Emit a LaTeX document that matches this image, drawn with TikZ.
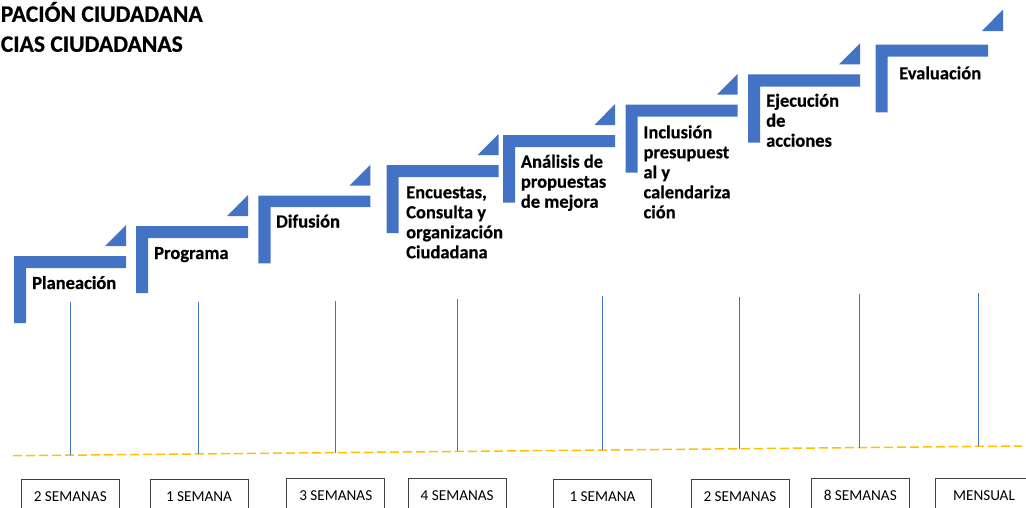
\documentclass[tikz,border=0pt]{standalone}
\usepackage{fontspec}
\setmainfont{Carlito}[BoldFeatures={FakeBold=0.5}]
\definecolor{stepblue}{HTML}{4472C4}
\definecolor{gold}{HTML}{FFC000}
\tikzset{
  stepshape/.style={fill=stepblue, draw=none},
  steplabel/.style={anchor=base west, inner sep=0pt, font=\bfseries\fontsize{18.5}{20}\selectfont},
  titletext/.style={anchor=base west, inner sep=0pt, font=\bfseries\fontsize{23.6}{30}\selectfont},
  timebox/.style={draw=black!75, line width=1pt, anchor=north, inner sep=0pt,
     minimum width=98pt, text height=22pt, text depth=12pt, font=\fontsize{15.2}{18}\selectfont},
  tick/.style={draw=stepblue, line width=1pt},
  timeline/.style={draw=gold, line width=1.5pt, dash pattern=on 9pt off 4pt}
}
\newcommand{\ml}[1]{\begin{tabular}[t]{@{}l@{}}#1\end{tabular}}
\begin{document}
\begin{tikzpicture}[x=1pt,y=-1pt]
\useasboundingbox (0,0) rectangle (1026,507);

% title (its start lies beyond the left edge in the reference)
\node[titletext] (t1) at (0.6,21.8) {PACIÓN CIUDADANA};
\node[titletext] (t2) at (0.6,51.8) {CIAS CIUDADANAS};

% step 1
\fill[stepshape] (14,256) -- (126,256) -- (126,268) -- (26,268) -- (26,323) -- (14,323) -- cycle;
\fill[stepshape] (105,246) -- (126,246) -- (126,225) -- cycle;
\node[steplabel] (s1) at (32,289) {Planeación};
% step 2
\fill[stepshape] (136,226) -- (248,226) -- (248,238) -- (148,238) -- (148,293) -- (136,293) -- cycle;
\fill[stepshape] (227,216) -- (248,216) -- (248,195) -- cycle;
\node[steplabel] (s2) at (154,259) {Programa};
% step 3
\fill[stepshape] (258.3,195.7) -- (370.3,195.7) -- (370.3,207.2) -- (270.5,207.2) -- (270.5,263.3) -- (258.3,263.3) -- cycle;
\fill[stepshape] (349.5,185.5) -- (370.3,185.5) -- (370.3,164.7) -- cycle;
\node[steplabel] (s3) at (276,227.5) {Difusión};
% step 4
\fill[stepshape] (386.5,165) -- (498.5,165) -- (498.5,177) -- (398.7,177) -- (398.7,233) -- (386.5,233) -- cycle;
\fill[stepshape] (477.5,155) -- (498.5,155) -- (498.5,134) -- cycle;
\node[steplabel] (s4) at (406,198.3) {\ml{Encuestas,\\Consulta y\\organización\\Ciudadana}};
% step 5
\fill[stepshape] (503,135) -- (615,135) -- (615,147) -- (515,147) -- (515,202.7) -- (503,202.7) -- cycle;
\fill[stepshape] (594.5,125) -- (615,125) -- (615,104) -- cycle;
\node[steplabel] (s5) at (520.7,167.7) {\ml{Análisis de\\propuestas\\de mejora}};
% step 6
\fill[stepshape] (625.5,104.5) -- (737.5,104.5) -- (737.5,116.7) -- (637.7,116.7) -- (637.7,172.7) -- (625.5,172.7) -- cycle;
\fill[stepshape] (717,94.5) -- (737.5,94.5) -- (737.5,74) -- cycle;
\node[steplabel] (s6) at (643.3,138.3) {\ml{Inclusión\\presupuest\\al y\\calendariza\\ción}};
% step 7
\fill[stepshape] (748,74.3) -- (860,74.3) -- (860,86.7) -- (760,86.7) -- (760,142.7) -- (748,142.7) -- cycle;
\fill[stepshape] (839,64.3) -- (860,64.3) -- (860,43.3) -- cycle;
\node[steplabel] (s7) at (766,106.7) {\ml{Ejecución\\de\\acciones}};
% step 8
\fill[stepshape] (875.5,44.7) -- (988,44.7) -- (988,56.7) -- (887.7,56.7) -- (887.7,112.3) -- (875.5,112.3) -- cycle;
\fill[stepshape] (982,31) -- (1003,31) -- (1003,9.5) -- cycle;
\node[steplabel] (s8) at (899,79.3) {Evaluación};

% timeline
\coordinate (d1) at (13,455.7);
\coordinate (d2) at (1022,446);
\draw[timeline] (d1) -- (d2);

% ticks
\foreach \i/\x/\t/\b in {1/70.3/302/455.2, 2/198.7/302/453.9, 3/335.3/301/452.6, 4/457.3/299/451.4,
                         5/602.3/296/450.0, 6/739.3/297/448.7, 7/859.5/294/447.5, 8/978.3/293/446.4}{
  \coordinate (vt\i) at (\x,\t);
  \coordinate (vb\i) at (\x,\b);
  \draw[tick] (vt\i) -- (vb\i);
}

% duration boxes (cut by the lower edge)
\begin{scope}
\clip (0,0) rectangle (1026,507);
\node[timebox] (b1) at (70.3,479) {2 SEMANAS};
\node[timebox] (b2) at (199,479) {1 SEMANA};
\node[timebox] (b3) at (335.8,478.3) {3 SEMANAS};
\node[timebox] (b4) at (457.2,478.3) {4 SEMANAS};
\node[timebox] (b5) at (602.5,479) {1 SEMANA};
\node[timebox] (b6) at (740,479) {2 SEMANAS};
\node[timebox] (b7) at (860.3,478.3) {8 SEMANAS};
\node[timebox] (b8) at (984,478.3) {MENSUAL};
\end{scope}
\end{tikzpicture}
\end{document}
